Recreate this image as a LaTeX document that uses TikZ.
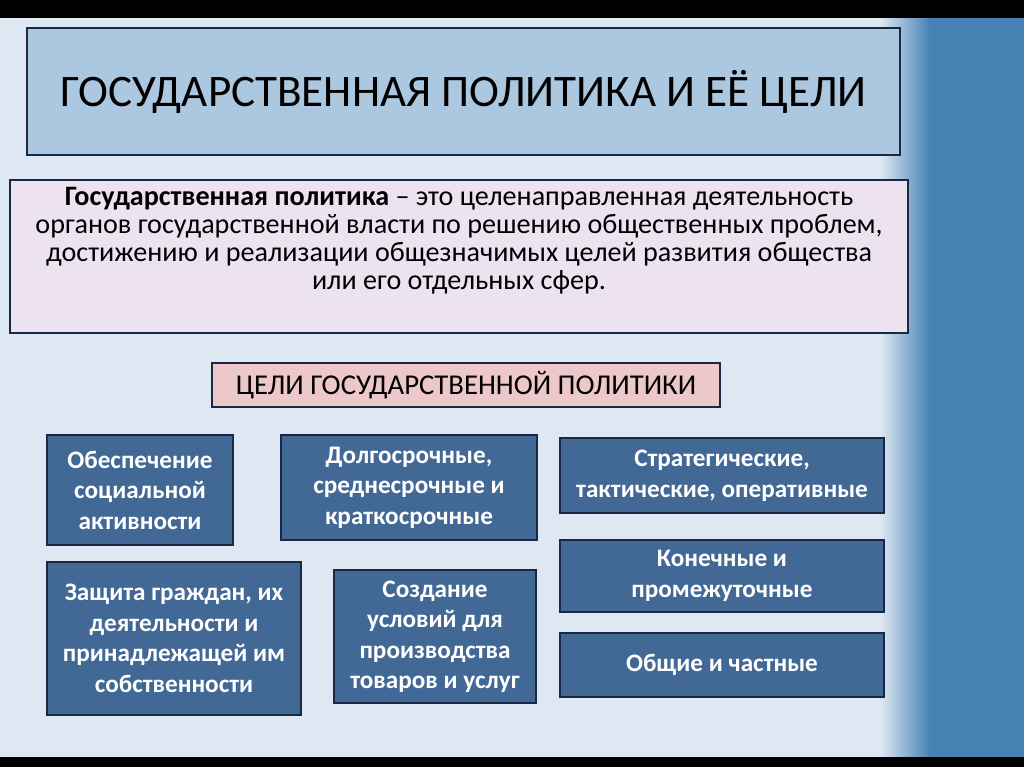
\documentclass[tikz,border=0pt]{standalone}
\usepackage{fontspec}
\setmainfont{Carlito}
\usetikzlibrary{positioning}
\definecolor{goalblue}{RGB}{66,104,150}
\definecolor{goalline}{RGB}{25,40,70}
\definecolor{titlefill}{RGB}{172,200,225}
\definecolor{deffill}{RGB}{236,226,240}
\definecolor{headfill}{RGB}{236,200,202}
\definecolor{backfill}{RGB}{222,232,242}
\definecolor{stripfill}{RGB}{70,130,180}
\tikzset{
  goalbox/.style={draw=goalline, line width=1.8pt, fill=goalblue, text=white,
    font=\fontsize{21.5}{26}\selectfont\bfseries, align=center, inner sep=0pt},
  plainbox/.style={draw=goalline, line width=1.8pt, align=center, inner sep=0pt}
}
\newcommand{\goal}[6]{%
  \node[goalbox, minimum width={(#4-#2)*0.03cm}, minimum height={(#5-#3)*0.03cm}]
    (#1) at ({(#2+#4)/2},{(#3+#5)/2}) {#6};}
\begin{document}
\begin{tikzpicture}[x=0.03cm, y=-0.03cm]
   % background
   \fill[backfill] (0,0) rectangle (1024,767);
   \shade[left color=backfill, right color=stripfill] (880,18) rectangle (930,757);
   \fill[stripfill] (930,18) rectangle (1024,757);
   \fill[black] (0,0) rectangle (1024,18);
   \fill[black] (0,757) rectangle (1024,767);
   \useasboundingbox (0,0) rectangle (1024,767);

   % title
   \node[plainbox, fill=titlefill, minimum width={873*0.03cm}, minimum height={127*0.03cm},
     font=\fontsize{38.5}{42}\selectfont] (title) at (463.5,91.5)
     {ГОСУДАРСТВЕННАЯ ПОЛИТИКА И ЕЁ ЦЕЛИ};

   % definition
   \node[plainbox, fill=deffill, minimum width={898*0.03cm}, minimum height={153*0.03cm}] (defbox) at (459,256.5) {};
   \node[align=center, font=\fontsize{24}{24}\selectfont, anchor=north, inner sep=0pt] (deftext) at (459,187)
     {\textbf{Государственная политика} -- это целенаправленная деятельность\\
      органов государственной власти по решению общественных проблем,\\
      достижению и реализации общезначимых целей развития общества\\
      или его отдельных сфер.};

   % goals header
   \node[plainbox, fill=headfill, minimum width={508*0.03cm}, minimum height={44*0.03cm},
     font=\fontsize{24.5}{26}\selectfont] (goals) at (466,385)
     {ЦЕЛИ ГОСУДАРСТВЕННОЙ ПОЛИТИКИ};

   % goal boxes
   \goal{social}{47}{435}{233}{545}{Обеспечение\\социальной\\активности}
   \goal{terms}{281}{435}{537}{540}{Долгосрочные,\\среднесрочные и\\краткосрочные}
   \goal{strat}{560}{438}{884}{513}{Стратегические,\\тактические, оперативные}
   \goal{protect}{47}{562}{301}{715}{Защита граждан, их\\деятельности и\\принадлежащей им\\собственности}
   \goal{produce}{334}{570}{536}{703}{Создание\\условий для\\производства\\товаров и услуг}
   \goal{final}{560}{540}{884}{612}{Конечные и\\промежуточные}
   \goal{general}{560}{633}{884}{697}{Общие и частные}
\end{tikzpicture}
\end{document}
